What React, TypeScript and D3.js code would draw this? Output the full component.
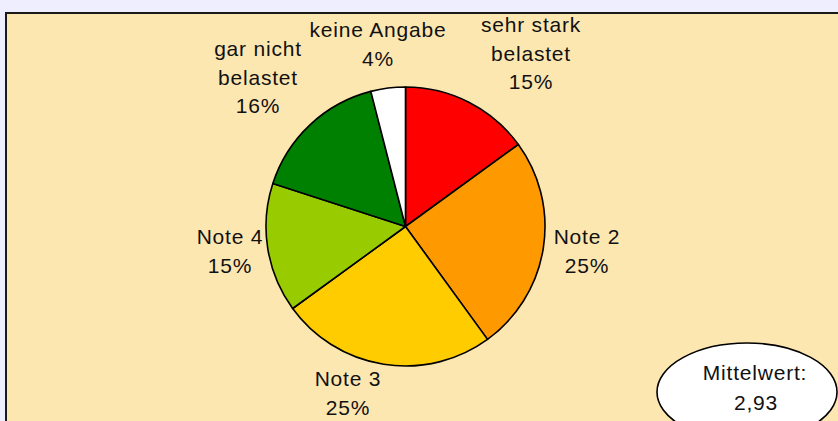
import React from "react";
import * as d3 from "d3";

const categories = ["sehr stark belastet", "Note 2", "Note 3", "Note 4", "gar nicht belastet", "keine Angabe"];
const values = [15, 25, 25, 15, 16, 4];
const colors = ["#FF0000", "#FF9900", "#FFCC00", "#99CC00", "#008000", "#FFFFFF"];
const labelLines = [
  ["sehr stark", "belastet", "15%"],
  ["Note 2", "25%"],
  ["Note 3", "25%"],
  ["Note 4", "15%"],
  ["gar nicht", "belastet", "16%"],
  ["keine Angabe", "4%"],
];
const labelPos: [number, number][] = [
  [531, 32],
  [587, 244],
  [348, 386],
  [230, 244],
  [258, 56],
  [378, 37],
];
const meanLabel = ["Mittelwert:", "2,93"];

export default function App() {
  const W = 838, H = 421;
  const cx = 405.5, cy = 226.5, r = 139.5;
  const pie = d3.pie<number>().sort(null).value((d) => d)(values);
  const arc = d3.arc<d3.PieArcDatum<number>>().innerRadius(0).outerRadius(r);
  const font = "'Liberation Sans', Arial, sans-serif";
  return (
    <div style={{ position: "fixed", left: 0, top: 0 }}>
      <svg width={W} height={H} style={{ display: "block" }}>
        <rect x={0} y={0} width={W} height={H} fill="#EEEEFF" />
        <rect x={6} y={13} width={W + 20} height={H + 20} fill="#FDE7B1" stroke="#1a1a1a" strokeWidth={2} />
        <g transform={`translate(${cx},${cy})`}>
          {pie.map((p, i) => (
            <path key={categories[i]} d={arc(p) || ""} fill={colors[i]} stroke="#000" strokeWidth={1.6} strokeLinejoin="round" />
          ))}
        </g>
        <g fontFamily={font} fontSize={21} fill="#111" textAnchor="middle" letterSpacing={0.8}>
          {labelLines.map((lines, i) => (
            <text key={i} x={labelPos[i][0]} y={labelPos[i][1]}>
              {lines.map((l, j) => (
                <tspan key={j} x={labelPos[i][0]} dy={j === 0 ? 0 : 28.5}>{l}</tspan>
              ))}
            </text>
          ))}
        </g>
        <ellipse cx={747} cy={392} rx={90} ry={49} fill="#FFFFFF" stroke="#000" strokeWidth={1.6} />
        <g fontFamily={font} fontSize={21} fill="#111" textAnchor="middle" letterSpacing={0.8}>
          <text x={755} y={380}>{meanLabel[0]}</text>
          <text x={756} y={410}>{meanLabel[1]}</text>
        </g>
      </svg>
    </div>
  );
}
